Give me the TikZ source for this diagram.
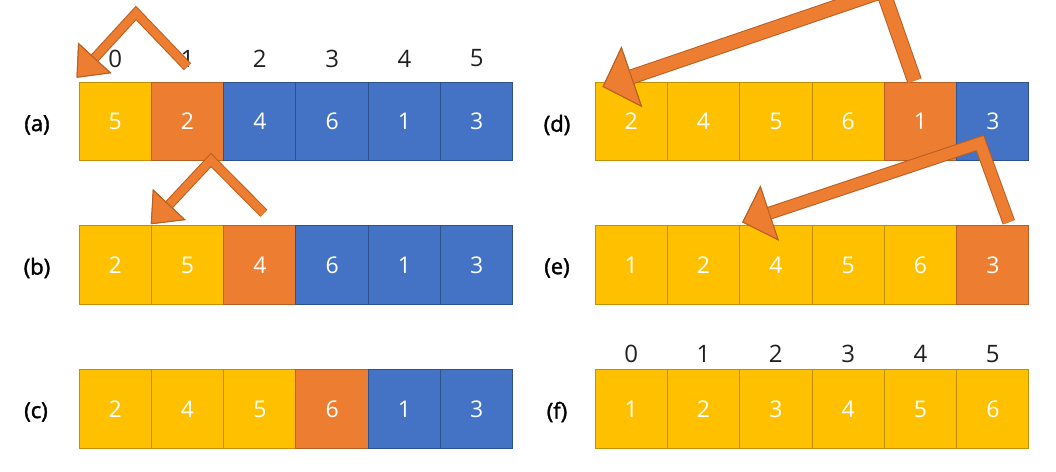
\documentclass[tikz,border=0pt]{standalone}
\usepackage{fontspec}
\setmainfont{Open Sans}
\newfontfamily\lblfont[FakeBold=1.6]{Open Sans}
\usetikzlibrary{arrows.meta,calc}
\definecolor{cy}{HTML}{FFC000}
\definecolor{cyd}{HTML}{BF9000}
\definecolor{co}{HTML}{ED7D31}
\definecolor{cod}{HTML}{B85F24}
\definecolor{cb}{HTML}{4472C4}
\definecolor{cbd}{HTML}{2F528F}
\definecolor{ctxt}{HTML}{202020}
\tikzset{
 cell/.style={draw, line width=1pt, minimum width=72.33pt, minimum height=78.5pt, inner sep=0pt, text=white, font=\fontsize{23}{28}\selectfont, anchor=center},
 Y/.style={cell, fill=cy, draw=cyd},
 O/.style={cell, fill=co, draw=cod},
 B/.style={cell, fill=cb, draw=cbd},
 idx/.style={font=\fontsize{24}{28}\selectfont, text=ctxt, inner sep=0pt},
 lbl/.style={font=\fontsize{22}{26}\lblfont, text=black, inner sep=0pt},
}
\newcommand\cellrow[4]{%
 \foreach \st/\v [count=\k from 0] in {#4} {
   \node[\st] (#1\k) at ({#2+72.33*(\k+0.5)}, #3) {\v};
 }}
\newcommand\blockarrow[5]{%
 \draw[cod, line width=#1pt, line join=miter, -{Triangle[length=#3pt, width=#4pt, line width=1pt, fill=co, color=cod]}] #5;
 \draw[co, line width=#2pt, line join=miter, -{Triangle[length=#3pt, width=#4pt, line width=1pt, fill=co, color=cod]}] #5;
}
\begin{document}
\begin{tikzpicture}[x=1pt, y=-1pt]
\useasboundingbox (0,0) rectangle (1056,471);
\clip (0,0) rectangle (1056,471);
\cellrow{a}{79}{121.5}{Y/5, O/2, B/4, B/6, B/1, B/3}
\cellrow{b}{79}{265}{Y/2, Y/5, O/4, B/6, B/1, B/3}
\cellrow{c}{79}{409}{Y/2, Y/4, Y/5, O/6, B/1, B/3}
\cellrow{d}{595}{121.5}{Y/2, Y/4, Y/5, Y/6, O/1, B/3}
\cellrow{e}{595}{265}{Y/1, Y/2, Y/4, Y/5, Y/6, O/3}
\cellrow{f}{595}{409}{Y/1, Y/2, Y/3, Y/4, Y/5, Y/6}
\foreach \k in {0,...,5} {
  \node[idx] (ia\k) at ($(a\k.center)+(0,-63)$) {\k};
  \node[idx] (if\k) at ($(f\k.center)+(0,-55)$) {\k};
}
\node[lbl] (la) at (37,125) {(a)};
\node[lbl] (lb) at (37,268) {(b)};
\node[lbl] (lc) at (36,412) {(c)};
\node[lbl] (ld) at (557,125) {(d)};
\node[lbl] (le) at (557,268) {(e)};
\node[lbl] (lf) at (557,412) {(f)};
% arrows
\coordinate (sa) at ($(a1.north)+(0,-15)$);
\coordinate (pa) at (136,13);
\coordinate (ta) at ($(a0.north west)+(-2,-4)$);
\blockarrow{10}{8}{27}{45}{(sa) -- (pa) -- (ta)}
\coordinate (sb) at ($(a2.south)+(4,52)$);
\coordinate (pb) at (211,160);
\coordinate (tb) at ($(b1.north west)+(0,-1)$);
\blockarrow{10}{8}{27}{45}{(sb) -- (pb) -- (tb)}
\coordinate (sd) at ($(d4.north)+(-6,-1)$);
\coordinate (pd) at (883,-9);
\coordinate (td) at ($(d0.north west)+(8,5)$);
\blockarrow{15}{13}{31}{64}{(sd) -- (pd) -- (td)}
\coordinate (se) at ($(e5.north)+(16,-3)$);
\coordinate (pe) at (980,143);
\coordinate (te) at ($(e2.north west)+(3,-3)$);
\blockarrow{13}{11}{29}{58}{(se) -- (pe) -- (te)}
\end{tikzpicture}
\end{document}
